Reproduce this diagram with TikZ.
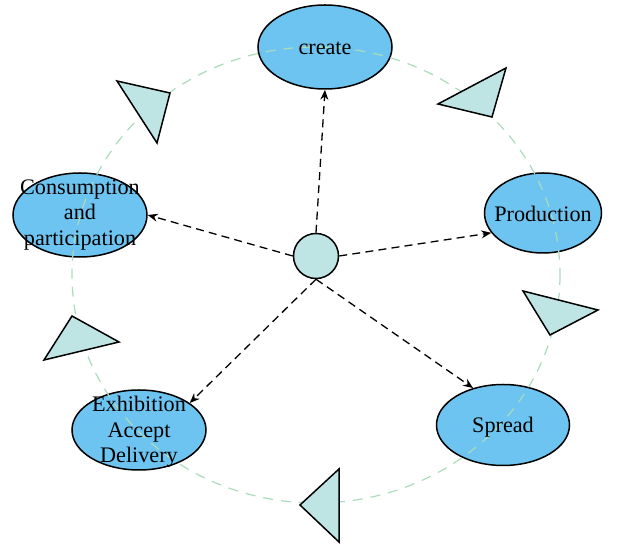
\documentclass[tikz,border=0pt]{standalone}
\usepackage{fontspec}
\setmainfont{Liberation Serif}
\usetikzlibrary{shapes.geometric,arrows.meta}
\definecolor{stageblue}{RGB}{110,196,240}
\definecolor{hubcyan}{RGB}{190,228,228}
\definecolor{ringgreen}{RGB}{170,220,188}
\begin{document}
\begin{tikzpicture}[x=0.5pt,y=-0.5pt,
  stage/.style={ellipse,draw=black,line width=0.75pt,fill=stageblue,inner sep=0pt},
  stagetext/.style={align=center,inner sep=0pt,font=\fontsize{11.1}{12.8}\selectfont},
  flow/.style={dash pattern=on 4pt off 2.6pt,line width=0.65pt,-{Stealth[length=5pt,width=4pt]}},
  ring/.style={ringgreen,line width=0.6pt,dash pattern=on 5pt off 4pt},
  wedge/.style={draw=black,line width=0.75pt,fill=hubcyan,line join=miter}]
\useasboundingbox (0,0) rectangle (622,544);

% stages of the cycle
\node[stage,minimum width=67pt,minimum height=42pt] (create) at (325,47) {};
\node[stage,minimum width=58.5pt,minimum height=40pt] (production) at (543,213) {};
\node[stage,minimum width=66.5pt,minimum height=40.5pt] (spread) at (503,425) {};
\node[stage,minimum width=67pt,minimum height=40pt] (exhibition) at (139,430) {};
\node[stage,minimum width=67pt,minimum height=42pt] (consumption) at (80,215) {};

% cycle ring
\draw[ring] (316,275) ellipse [x radius=244, y radius=228];

% direction markers on the ring
\draw[wedge] (117,81) -- (170,93) -- (157,143) -- cycle;
\draw[wedge] (438,104) -- (506,68) -- (492,117) -- cycle;
\draw[wedge] (523,291) -- (598,310) -- (550,335) -- cycle;
\draw[wedge] (300,505) -- (339,469) -- (339,542) -- cycle;
\draw[wedge] (72,316) -- (119,342) -- (44,360) -- cycle;

% hub and its links
\node[circle,draw=black,line width=0.75pt,fill=hubcyan,inner sep=0pt,minimum size=22.5pt] (hub) at (316,256) {};
\draw[flow] (hub.north) -- (create.south);
\draw[flow] (hub.east) -- (production.201);
\draw[flow] (hub.south) -- (spread.129);
\draw[flow] (hub.south) -- (exhibition.28);
\draw[flow] (hub.west) -- (consumption.east);

% labels
\node[stagetext] (createtext) at (325,48) {create};
\node[stagetext] (productiontext) at (543,214) {Production};
\node[stagetext] (spreadtext) at (503,427) {Spread};
\node[stagetext] (exhibitiontext) at (139,432) {Exhibition\\Accept\\Delivery};
\node[stagetext] (consumptiontext) at (80,215) {Consumption\\and\\participation};
\end{tikzpicture}
\end{document}
